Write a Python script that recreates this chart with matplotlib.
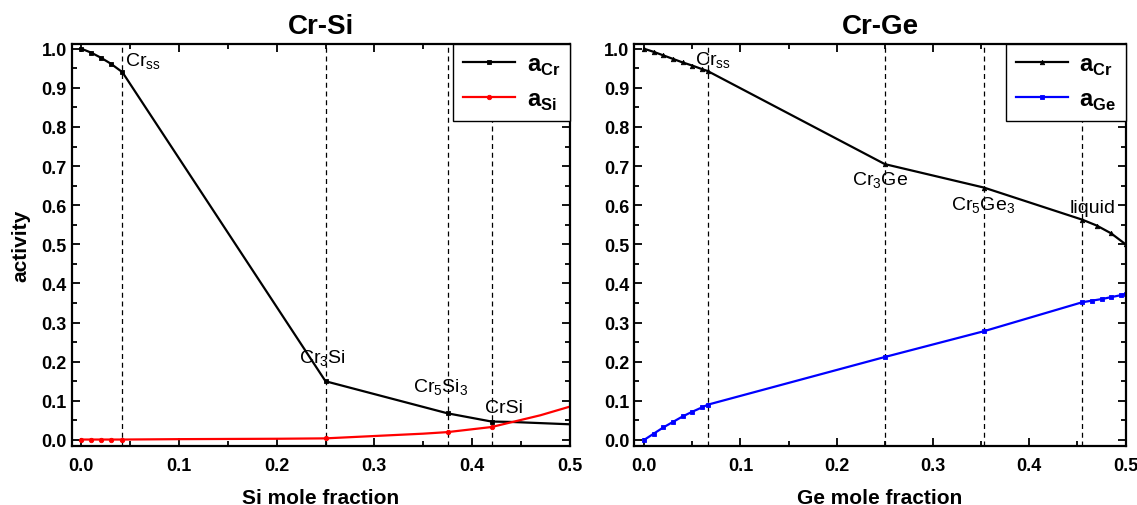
import numpy as np
import matplotlib
matplotlib.use("Agg")
import matplotlib.pyplot as plt
from matplotlib.ticker import MultipleLocator

plt.rcParams['font.family'] = ['Liberation Sans', 'DejaVu Sans']
plt.rcParams['mathtext.fontset'] = 'custom'
plt.rcParams['mathtext.rm'] = 'Liberation Sans'
plt.rcParams['mathtext.bf'] = 'Liberation Sans:bold'

# Cr-Si data
si_x_cr = [0.0, 0.01, 0.02, 0.03, 0.042, 0.25, 0.375, 0.42, 0.44, 0.5]
si_a_cr = [1.0, 0.99, 0.977, 0.962, 0.94, 0.15, 0.068, 0.047, 0.046, 0.04]
si_x_si = [0.0, 0.01, 0.02, 0.03, 0.042, 0.1, 0.2, 0.25, 0.3, 0.35, 0.375, 0.42, 0.44, 0.47, 0.5]
si_a_si = [0.001, 0.001, 0.001, 0.001, 0.001, 0.002, 0.003, 0.004, 0.01, 0.016, 0.02, 0.033, 0.045, 0.063, 0.085]
si_mark_si = [0, 1, 2, 3, 4, 7, 10, 11]
si_phases = [0.042, 0.25, 0.375, 0.42]

# Cr-Ge data
ge_x = [0.0, 0.01, 0.02, 0.03, 0.04, 0.05, 0.06, 0.066, 0.25, 0.353, 0.455, 0.47, 0.485, 0.5]
ge_a_cr = [1.0, 0.992, 0.983, 0.974, 0.965, 0.957, 0.948, 0.943, 0.705, 0.645, 0.563, 0.548, 0.528, 0.5]
ge_x_ge = [0.0, 0.01, 0.02, 0.03, 0.04, 0.05, 0.06, 0.066, 0.25, 0.353, 0.455, 0.465, 0.475, 0.485, 0.495, 0.5]
ge_a_ge = [0.0, 0.016, 0.032, 0.046, 0.06, 0.072, 0.083, 0.09, 0.212, 0.278, 0.352, 0.356, 0.36, 0.365, 0.37, 0.373]
ge_phases = [0.066, 0.25, 0.353, 0.455]

fig = plt.figure(figsize=(11.37, 5.06), dpi=100)
ax1 = fig.add_axes([0.063, 0.117, 0.438, 0.794])
ax2 = fig.add_axes([0.558, 0.117, 0.432, 0.794])


def style(ax):
    ax.set_xlim(-0.01, 0.5)
    ax.set_ylim(-0.015, 1.012)
    ax.xaxis.set_major_locator(MultipleLocator(0.1))
    ax.xaxis.set_minor_locator(MultipleLocator(0.05))
    ax.yaxis.set_major_locator(MultipleLocator(0.1))
    ax.yaxis.set_minor_locator(MultipleLocator(0.05))
    ax.tick_params(which='both', direction='in', top=True, right=True, width=1.3)
    ax.tick_params(which='major', length=6, labelsize=13)
    ax.tick_params(which='minor', length=3.5)
    ax.tick_params(axis='x', pad=8)
    for lab in ax.get_xticklabels() + ax.get_yticklabels():
        lab.set_fontweight('bold')
    for sp in ax.spines.values():
        sp.set_linewidth(1.6)


for ax in (ax1, ax2):
    style(ax)

mk = dict(ms=3.2, mew=0.6)

# Cr-Si
for xv in si_phases:
    ax1.axvline(xv, color='k', ls='--', lw=0.9, dashes=(4, 3))
ax1.plot(si_x_cr, si_a_cr, color='k', lw=1.6, marker='s', **mk,
         markevery=[0, 1, 2, 3, 4, 5, 6, 7], label=r'$\mathbf{a}_{\mathbf{Cr}}$')
ax1.plot(si_x_si, si_a_si, color='red', lw=1.6, marker='o', **mk,
         markevery=si_mark_si, label=r'$\mathbf{a}_{\mathbf{Si}}$')
ax1.text(0.045, 0.942, r'Cr$_{\mathrm{ss}}$', fontsize=14, ha='left', va='bottom')
ax1.text(0.247, 0.185, r'Cr$_3$Si', fontsize=14, ha='center', va='bottom')
ax1.text(0.368, 0.11, r'Cr$_5$Si$_3$', fontsize=14, ha='center', va='bottom')
ax1.text(0.433, 0.062, 'CrSi', fontsize=14, ha='center', va='bottom')
ax1.set_title('Cr-Si', fontsize=20, fontweight='bold', pad=8)
ax1.set_xlabel('Si mole fraction', fontsize=15, fontweight='bold', labelpad=10)
ax1.set_ylabel('activity', fontsize=15, fontweight='bold', labelpad=8)
leg1 = ax1.legend(loc='upper right', fontsize=17, fancybox=False, edgecolor='k',
                  borderaxespad=0, handlelength=2.2, labelspacing=0.5,
                  handletextpad=0.5, framealpha=1)
leg1.get_frame().set_linewidth(1.0)

# Cr-Ge
for xv in ge_phases:
    ax2.axvline(xv, color='k', ls='--', lw=0.9, dashes=(4, 3))
ax2.plot(ge_x, ge_a_cr, color='k', lw=1.6, marker='^', **mk,
         label=r'$\mathbf{a}_{\mathbf{Cr}}$')
ax2.plot(ge_x_ge, ge_a_ge, color='blue', lw=1.6, marker='s', **mk,
         label=r'$\mathbf{a}_{\mathbf{Ge}}$')
ax2.text(0.053, 0.945, r'Cr$_{\mathrm{ss}}$', fontsize=14, ha='left', va='bottom')
ax2.text(0.245, 0.64, r'Cr$_3$Ge', fontsize=14, ha='center', va='bottom')
ax2.text(0.352, 0.575, r'Cr$_5$Ge$_3$', fontsize=14, ha='center', va='bottom')
ax2.text(0.466, 0.572, 'liquid', fontsize=14, ha='center', va='bottom')
ax2.set_title('Cr-Ge', fontsize=20, fontweight='bold', pad=8)
ax2.set_xlabel('Ge mole fraction', fontsize=15, fontweight='bold', labelpad=10)
leg2 = ax2.legend(loc='upper right', fontsize=17, fancybox=False, edgecolor='k',
                  borderaxespad=0, handlelength=2.2, labelspacing=0.5,
                  handletextpad=0.5, framealpha=1)
leg2.get_frame().set_linewidth(1.0)

fig.savefig('out.png', dpi=100)
